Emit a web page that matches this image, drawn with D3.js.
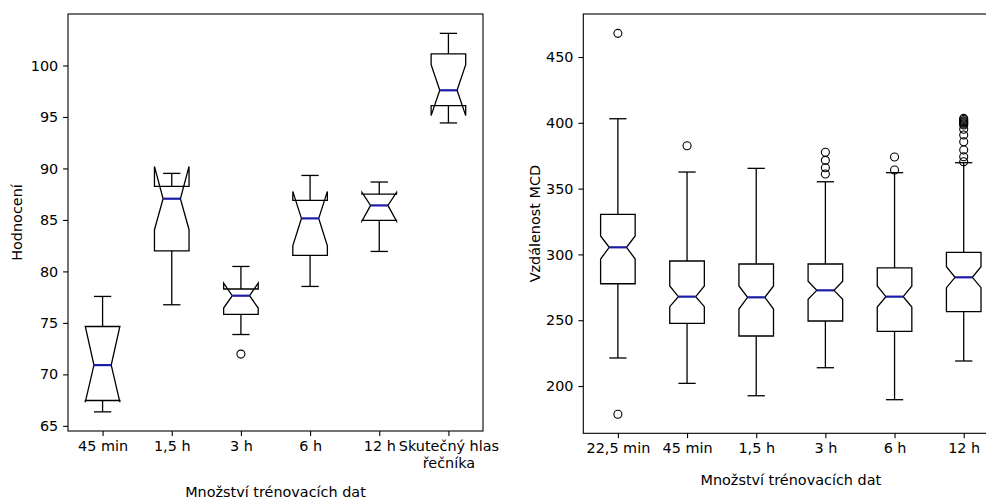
<!DOCTYPE html>
<html>
<head>
<meta charset="utf-8">
<script src="https://d3js.org/d3.v7.min.js"></script>
<style>
  body { margin: 0; background: #fff; }
  text { font-family: "DejaVu Sans", sans-serif; font-size: 14.4px; fill: #000; }
</style>
</head>
<body>
<svg width="986" height="501"></svg>
<script>
// ---- left panel: Hodnocení ----
var catsA = ['45 min', '1,5 h', '3 h', '6 h', '12 h', 'Skutečný hlas\nřečníka'];
var loA  = [66.36, 76.76, 73.87, 78.54, 81.94, 94.42];
var q1A  = [67.46, 82.00, 75.82, 81.55, 84.95, 96.10];
var nloA = [67.30, 84.05, 76.44, 82.49, 84.90, 95.13];
var medA = [70.90, 87.06, 77.64, 85.15, 86.41, 97.59];
var nhiA = [74.65, 90.20, 78.87, 87.77, 87.68, 100.08];
var q3A  = [74.65, 88.26, 78.29, 86.89, 87.50, 101.12];
var hiA  = [77.57, 89.52, 80.48, 89.32, 88.68, 103.12];
var outA = [[], [], [71.97], [], [], []];
var ticksA = [65, 70, 75, 80, 85, 90, 95, 100];

// ---- right panel: Vzdálenost MCD ----
var catsB = ['22,5 min', '45 min', '1,5 h', '3 h', '6 h', '12 h'];
var loB  = [221.3, 202.0, 192.6, 213.9, 189.6, 219.0];
var q1B  = [277.7, 247.6, 238.0, 249.4, 241.5, 256.5];
var nloB = [296.5, 260.3, 258.5, 265.9, 260.0, 274.7];
var medB = [305.4, 267.9, 267.4, 272.7, 267.9, 282.6];
var nhiB = [314.0, 276.0, 276.0, 279.6, 276.0, 290.7];
var q3B  = [330.5, 295.0, 292.7, 292.7, 289.7, 301.6];
var hiB  = [403.1, 362.6, 365.4, 355.2, 362.1, 369.7];
var outB = [
  [468.0, 178.5],
  [382.6],
  [],
  [377.6, 371.5, 365.9, 361.1],
  [374.0, 364.1],
  [403.4, 402.5, 401.6, 400.8, 400.1, 399.2, 398.3, 395.1, 390.7, 385.6, 379.3, 374.2, 370.4]
];
var ticksB = [200, 250, 300, 350, 400, 450];

var svg = d3.select('svg');

function panel(o) {
  var x = d3.scaleLinear().domain([0.5, o.cats.length + 0.5]).range([o.left, o.right]);
  var y = d3.scaleLinear().domain(o.ydom).range([o.bottom, o.top]);
  var g = svg.append('g');
  var hw = 0.25, nw = 0.125, cw = 0.125;

  o.cats.forEach(function(c, i) {
    var p = i + 1;
    var L = x(p - hw), R = x(p + hw), cl = x(p - nw), cr = x(p + nw);
    var pts = [
      [L, y(o.q1[i])], [L, y(o.nlo[i])], [cl, y(o.med[i])], [L, y(o.nhi[i])], [L, y(o.q3[i])],
      [R, y(o.q3[i])], [R, y(o.nhi[i])], [cr, y(o.med[i])], [R, y(o.nlo[i])], [R, y(o.q1[i])]
    ];
    g.append('path')
      .attr('d', d3.line()(pts) + 'Z')
      .attr('fill', 'none').attr('stroke', '#000').attr('stroke-width', 1.3);
    // whiskers + caps
    [[o.q1[i], o.lo[i]], [o.q3[i], o.hi[i]]].forEach(function(w) {
      g.append('line').attr('x1', x(p)).attr('x2', x(p))
        .attr('y1', y(w[0])).attr('y2', y(w[1]))
        .attr('stroke', '#000').attr('stroke-width', 1.3);
      g.append('line').attr('x1', x(p - cw)).attr('x2', x(p + cw))
        .attr('y1', y(w[1])).attr('y2', y(w[1]))
        .attr('stroke', '#000').attr('stroke-width', 1.3);
    });
    g.append('line').attr('x1', cl).attr('x2', cr)
      .attr('y1', y(o.med[i])).attr('y2', y(o.med[i]))
      .attr('stroke', '#1c1ca8').attr('stroke-width', 2.2);
    g.selectAll(null).data(o.out[i]).enter().append('circle')
      .attr('cx', x(p)).attr('cy', function(d) { return y(d); })
      .attr('r', 4).attr('fill', 'none').attr('stroke', '#000').attr('stroke-width', 1.1);
  });

  // spines
  g.append('rect').attr('x', o.left).attr('y', o.top)
    .attr('width', o.right - o.left).attr('height', o.bottom - o.top)
    .attr('fill', 'none').attr('stroke', '#000').attr('stroke-width', 1.1);

  var ya = g.append('g').attr('transform', 'translate(' + o.left + ',0)')
    .call(d3.axisLeft(y).tickValues(o.ticks).tickSize(4.9).tickPadding(4.9));
  var xa = g.append('g').attr('transform', 'translate(0,' + o.bottom + ')')
    .call(d3.axisBottom(x).tickValues(d3.range(1, o.cats.length + 1))
      .tickFormat(function(d) { return o.cats[d - 1]; }).tickSize(4.9).tickPadding(4.9));
  [ya, xa].forEach(function(a) {
    a.select('.domain').remove();
    a.selectAll('.tick line').attr('stroke', '#000').attr('stroke-width', 1.1);
    a.selectAll('.tick text').attr('font-size', null).attr('font-family', null).style('fill', '#000');
  });
  xa.selectAll('.tick text').each(function(d) {
    var t = d3.select(this), lines = o.cats[d - 1].split('\n');
    if (lines.length < 2) return;
    t.text(null);
    lines.forEach(function(s, k) {
      t.append('tspan').attr('x', 0).attr('dy', k === 0 ? '0.71em' : '1.2em').text(s);
    });
    t.attr('dy', null);
  });

  g.append('text').attr('x', (o.left + o.right) / 2).attr('y', o.xlabY)
    .attr('text-anchor', 'middle').text('Množství trénovacích dat');
  g.append('text').attr('transform', 'translate(' + o.ylabX + ',' + ((o.top + o.bottom) / 2) + ') rotate(-90)')
    .attr('text-anchor', 'middle').attr('dy', '0.35em').text(o.ylab);
}

panel({ cats: catsA, lo: loA, q1: q1A, nlo: nloA, med: medA, nhi: nhiA, q3: q3A, hi: hiA, out: outA,
  ticks: ticksA, ydom: [64.5, 105], left: 68, right: 483, top: 14, bottom: 431,
  xlabY: 497, ylabX: 17, ylab: 'Hodnocení' });

panel({ cats: catsB, lo: loB, q1: q1B, nlo: nloB, med: medB, nhi: nhiB, q3: q3B, hi: hiB, out: outB,
  ticks: ticksB, ydom: [164.06, 482.7], left: 583.3, right: 998.3, top: 14, bottom: 433.3,
  xlabY: 485, ylabX: 535, ylab: 'Vzdálenost MCD' });
</script>
</body>
</html>
